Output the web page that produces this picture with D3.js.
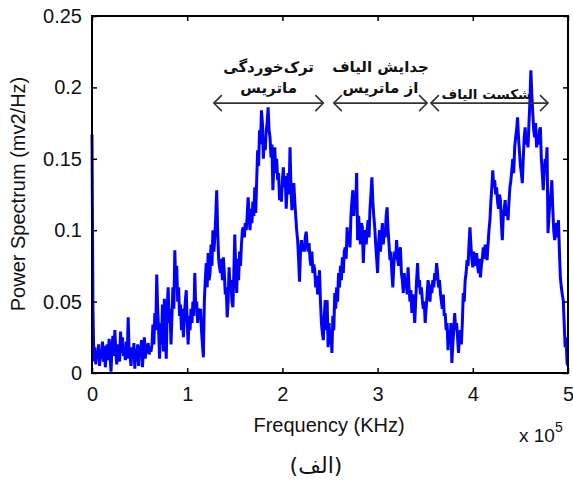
<!DOCTYPE html>
<html>
<head>
<meta charset="utf-8">
<script src="https://cdn.jsdelivr.net/npm/d3@7/dist/d3.min.js"></script>
<style>
  html, body { margin: 0; padding: 0; background: #ffffff; }
  svg { display: block; }
  text { font-family: "Liberation Sans", Arial, Helvetica, sans-serif; fill: #111; }
  .fa { font-family: "DejaVu Sans", "Noto Sans", sans-serif; font-weight: bold; }
</style>
</head>
<body>
<svg id="chart" width="573" height="481"></svg>
<script>
// ---------------- data ----------------
const freqStart = 0;          // in units of 10^5
const freqStep = 0.01;        // sample spacing of the spectrum (x 10^5)
const power = [
  0.167,0.045,0.008,0.018,0.006,0.015,0.012,0.02,0.005,0.016,
  0.01,0.022,0.008,0.019,0.004,0.014,0.02,0.009,0.024,0.012,
  0.001,0.018,0.026,0.012,0.03,0.015,0.006,0.02,0.012,0.008,
  0.029,0.014,0.025,0.012,0.018,0.009,0.022,0.01,0.039,0.015,
  0.012,0.005,0.018,0.01,0.021,0.003,0.017,0.008,0.02,0.005,
  0.019,0.012,0.023,0.004,0.016,0.025,0.01,0.02,0.014,0.021,
  0.013,0.016,0.015,0.02,0.034,0.02,0.042,0.03,0.069,0.045,
  0.03,0.01,0.035,0.02,0.048,0.015,0.052,0.03,0.01,0.045,
  0.06,0.035,0.045,0.02,0.04,0.06,0.045,0.086,0.06,0.075,
  0.05,0.06,0.04,0.048,0.03,0.045,0.025,0.04,0.05,0.058,
  0.035,0.02,0.04,0.03,0.045,0.035,0.05,0.04,0.07,0.045,
  0.05,0.035,0.045,0.04,0.045,0.03,0.02,0.011,0.05,0.065,
  0.077,0.06,0.084,0.065,0.07,0.09,0.075,0.1,0.085,0.095,
  0.11,0.128,0.1,0.08,0.074,0.07,0.08,0.065,0.081,0.07,
  0.055,0.06,0.039,0.05,0.074,0.06,0.065,0.05,0.046,0.07,
  0.097,0.07,0.056,0.08,0.065,0.085,0.075,0.09,0.1,0.102,
  0.095,0.105,0.1,0.11,0.123,0.11,0.1,0.115,0.105,0.12,
  0.11,0.13,0.112,0.135,0.156,0.145,0.17,0.16,0.184,0.175,
  0.15,0.165,0.156,0.17,0.175,0.186,0.17,0.165,0.151,0.16,
  0.128,0.145,0.158,0.14,0.15,0.135,0.14,0.121,0.13,0.12,
  0.135,0.144,0.13,0.138,0.115,0.13,0.14,0.125,0.158,0.13,
  0.114,0.125,0.133,0.12,0.11,0.1,0.093,0.08,0.064,0.085,
  0.093,0.085,0.09,0.085,0.095,0.099,0.09,0.085,0.091,0.08,
  0.075,0.085,0.07,0.076,0.072,0.06,0.068,0.055,0.06,0.072,
  0.05,0.035,0.028,0.023,0.04,0.051,0.03,0.051,0.018,0.035,
  0.02,0.03,0.014,0.04,0.03,0.056,0.045,0.06,0.05,0.07,
  0.06,0.075,0.065,0.081,0.07,0.085,0.088,0.08,0.102,0.09,
  0.095,0.088,0.11,0.12,0.128,0.11,0.125,0.118,0.14,0.093,
  0.11,0.1,0.09,0.105,0.102,0.077,0.095,0.1,0.09,0.1,
  0.107,0.095,0.115,0.125,0.137,0.12,0.11,0.102,0.09,0.08,
  0.07,0.09,0.1,0.085,0.095,0.105,0.09,0.1,0.095,0.11,
  0.116,0.1,0.09,0.079,0.085,0.07,0.06,0.075,0.085,0.08,
  0.093,0.08,0.075,0.085,0.088,0.07,0.065,0.056,0.07,0.06,
  0.065,0.055,0.074,0.06,0.05,0.058,0.042,0.055,0.048,0.035,
  0.05,0.065,0.077,0.06,0.065,0.055,0.06,0.051,0.045,0.05,
  0.035,0.045,0.055,0.065,0.06,0.05,0.062,0.056,0.065,0.06,
  0.07,0.065,0.077,0.07,0.06,0.065,0.056,0.05,0.045,0.055,
  0.04,0.042,0.03,0.035,0.016,0.03,0.02,0.035,0.007,0.02,
  0.03,0.042,0.03,0.035,0.025,0.014,0.025,0.03,0.02,0.035,
  0.056,0.05,0.065,0.07,0.079,0.075,0.09,0.102,0.09,0.08,
  0.074,0.085,0.075,0.08,0.084,0.075,0.07,0.08,0.067,0.075,
  0.08,0.088,0.08,0.09,0.085,0.079,0.09,0.1,0.107,0.12,
  0.13,0.142,0.13,0.135,0.125,0.13,0.12,0.115,0.125,0.121,
  0.105,0.093,0.11,0.115,0.121,0.11,0.115,0.107,0.12,0.13,
  0.135,0.142,0.15,0.14,0.158,0.165,0.17,0.179,0.165,0.155,
  0.145,0.14,0.133,0.15,0.165,0.172,0.16,0.165,0.158,0.175,
  0.19,0.212,0.195,0.182,0.17,0.165,0.175,0.158,0.165,0.16,
  0.17,0.172,0.15,0.14,0.128,0.14,0.15,0.145,0.158,0.098,
  0.11,0.12,0.125,0.135,0.115,0.1,0.093,0.1,0.105,0.095,
  0.107,0.085,0.067,0.06,0.055,0.051,0.035,0.018,0.025,0.007,
  0.005
];
const xTicks = [0, 1, 2, 3, 4, 5];
const yTicks = [0, 0.05, 0.1, 0.15, 0.2, 0.25];
const xTickLabels = ["0", "1", "2", "3", "4", "5"];
const yTickLabels = ["0", "0.05", "0.1", "0.15", "0.2", "0.25"];
const xTitle = "Frequency (KHz)";
const yTitle = "Power Spectrum (mv2/Hz)";
const xMultiplier = "x 10";
const xMultiplierExp = "5";
const caption = "(الف)";
// annotated regions: [start, end] in x units, with label lines
const regionStart = [1.28, 2.54, 3.56];
const regionEnd   = [2.43, 3.52, 4.79];
const regionLine1 = ["ترک‌خوردگی", "جدایش الیاف", ""];
const regionLine2 = ["ماتریس", "از ماتریس", "شکست الیاف"];
const regionLevel = 0.189;   // arrow height in power units

// ---------------- layout ----------------
const svg = d3.select("#chart");
const L = 92, R = 568, T = 16, B = 373;
const x = d3.scaleLinear().domain([0, 5]).range([L, R]);
const y = d3.scaleLinear().domain([0, 0.25]).range([B, T]);

// curve
const pts = power.map((p, i) => [freqStart + i * freqStep, p]);
const line = d3.line().x(d => x(d[0])).y(d => y(d[1]));
svg.append("path")
  .datum(pts)
  .attr("d", line)
  .attr("fill", "none")
  .attr("stroke", "#0000ff")
  .attr("stroke-width", 3)
  .attr("stroke-linejoin", "miter")
  .attr("stroke-miterlimit", 2);

// axes
function styleAxis(g) {
  g.selectAll(".domain").remove();
  g.selectAll(".tick line").attr("stroke", "#000").attr("stroke-width", 1.5);
  g.selectAll(".tick text").style("font-size", "20px").attr("fill", "#111");
}
svg.append("g").attr("transform", `translate(0,${B})`)
  .call(d3.axisBottom(x).tickValues(xTicks).tickFormat((d, i) => xTickLabels[i])
    .tickSizeInner(-5).tickSizeOuter(0).tickPadding(14))
  .call(styleAxis);
svg.append("g").attr("transform", `translate(0,${T})`)
  .call(d3.axisTop(x).tickValues(xTicks).tickFormat("").tickSizeInner(-5).tickSizeOuter(0))
  .call(styleAxis);
svg.append("g").attr("transform", `translate(${L},0)`)
  .call(d3.axisLeft(y).tickValues(yTicks).tickFormat((d, i) => yTickLabels[i])
    .tickSizeInner(-5).tickSizeOuter(0).tickPadding(10))
  .call(styleAxis);
svg.append("g").attr("transform", `translate(${R},0)`)
  .call(d3.axisRight(y).tickValues(yTicks).tickFormat("").tickSizeInner(-5).tickSizeOuter(0))
  .call(styleAxis);

// frame
svg.append("rect")
  .attr("x", L).attr("y", T).attr("width", R - L).attr("height", B - T)
  .attr("fill", "none").attr("stroke", "#000").attr("stroke-width", 2);

// titles
svg.append("text").attr("x", 329).attr("y", 432).attr("text-anchor", "middle")
  .style("font-size", "20px").text(xTitle);
svg.append("text").attr("transform", "translate(25,194) rotate(-90)").attr("text-anchor", "middle")
  .style("font-size", "20px").text(yTitle);
const mult = svg.append("text").attr("x", 519).attr("y", 442).style("font-size", "19px");
mult.append("tspan").text(xMultiplier);
mult.append("tspan").attr("dy", -10).style("font-size", "14px").text(xMultiplierExp);
svg.append("text").attr("x", 316).attr("y", 473).attr("text-anchor", "middle")
  .attr("class", "fa").style("font-weight", "normal").style("font-size", "22px").text(caption);

// region annotations
const ay = y(regionLevel);
const arrowCol = "#333";
regionStart.forEach((s, i) => {
  const x0 = x(s), x1 = x(regionEnd[i]);
  const g = svg.append("g").attr("stroke", arrowCol).attr("stroke-width", 1.6).attr("fill", "none");
  g.append("line").attr("x1", x0).attr("x2", x1).attr("y1", ay).attr("y2", ay);
  g.append("path").attr("d", `M${x0 + 8},${ay - 8} L${x0},${ay} L${x0 + 8},${ay + 8}`);
  g.append("path").attr("d", `M${x1 - 8},${ay - 8} L${x1},${ay} L${x1 - 8},${ay + 8}`);
  const cx = (x0 + x1) / 2;
  if (regionLine1[i]) {
    svg.append("text").attr("class", "fa").attr("x", cx).attr("y", 72).attr("text-anchor", "middle")
      .style("font-size", "15px").text(regionLine1[i]);
    svg.append("text").attr("class", "fa").attr("x", cx).attr("y", 93).attr("text-anchor", "middle")
      .style("font-size", "15px").text(regionLine2[i]);
  } else {
    svg.append("text").attr("class", "fa").attr("x", cx - 3).attr("y", 99).attr("text-anchor", "middle")
      .style("font-size", "13.5px").text(regionLine2[i]);
  }
});
</script>
</body>
</html>
